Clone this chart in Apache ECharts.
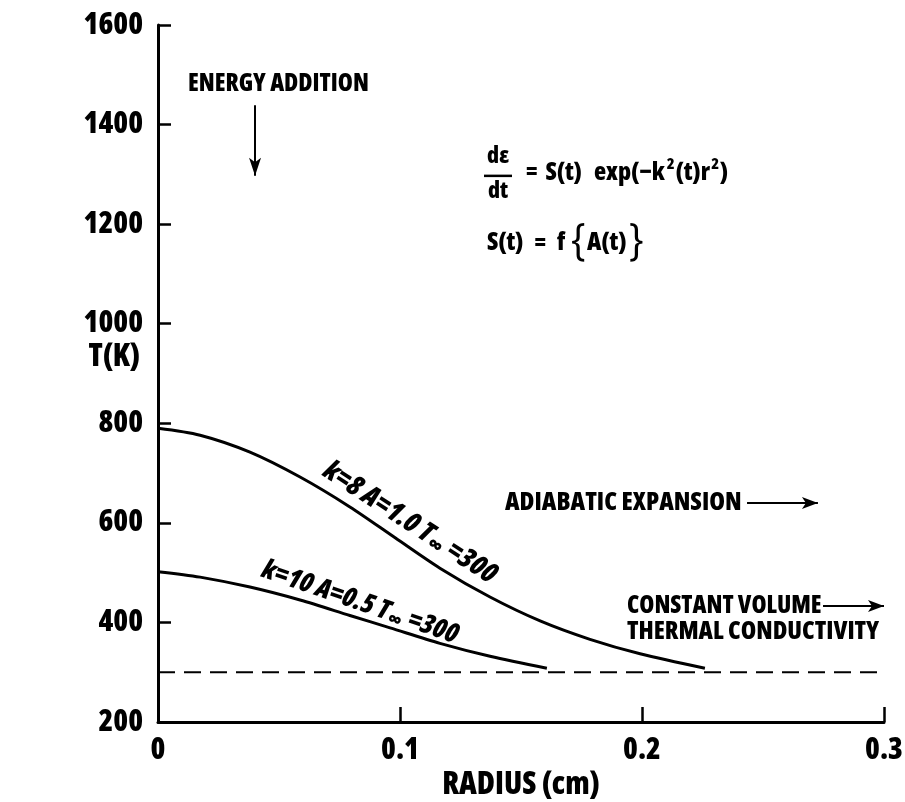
<!DOCTYPE html>
<html>
<head>
<meta charset="utf-8">
<script src="https://cdn.jsdelivr.net/npm/echarts@6/dist/echarts.min.js"></script>
<style>
  html, body { margin: 0; padding: 0; background: #fff; }
  #chart { width: 905px; height: 802px; }
</style>
</head>
<body>
<div id="chart"></div>
<script>
// Radial temperature profiles T(r) for two energy-addition cases
const radiusK8 = [0, 0.0174, 0.038, 0.0587, 0.0793, 0.098, 0.1165, 0.1372, 0.1579, 0.1785, 0.1992, 0.226];
const tempK8   = [790, 776, 742, 692, 632, 570, 509, 451, 403, 366, 337, 308];

const radiusK10 = [0, 0.0174, 0.038, 0.0587, 0.0793, 0.0959, 0.1165, 0.1372, 0.1607];
const tempK10   = [502, 491, 471, 445, 414, 389, 358, 332, 308];

const ambientTemp = 300;
const xTicks = [0, 0.1, 0.2, 0.3];
const yTicks = [200, 400, 600, 800, 1000, 1200, 1400, 1600];

const FAMILY = "'Open Sans', 'DejaVu Sans', sans-serif";
const WEIGHT = '800 condensed';

const pairs = (xs, ys) => xs.map((x, i) => [x, ys[i]]);

const chart = echarts.init(document.getElementById('chart'), null, { renderer: 'canvas' });

const axisLine = { show: true, lineStyle: { color: '#000', width: 3 } };
const labelFont = { fontFamily: FAMILY, fontWeight: WEIGHT, fontSize: 30, color: '#000' };

chart.setOption({
  animation: false,
  backgroundColor: '#fff',
  grid: { left: 158, right: 21, top: 25, bottom: 80, containLabel: false, outerBoundsMode: 'none' },
  xAxis: {
    type: 'value',
    min: xTicks[0], max: xTicks[xTicks.length - 1], interval: 0.1,
    name: 'RADIUS (cm)', nameLocation: 'middle', nameGap: 47,
    nameTextStyle: Object.assign({}, labelFont, { fontSize: 31 }),
    axisLine,
    axisTick: { show: true, inside: true, length: 15, lineStyle: { color: '#000', width: 2.5 } },
    axisLabel: Object.assign({}, labelFont, {
      margin: 13,
      formatter: v => (v === 0 ? '0' : v.toFixed(1))
    }),
    splitLine: { show: false }
  },
  yAxis: {
    type: 'value',
    min: yTicks[0], max: yTicks[yTicks.length - 1], interval: 200,
    axisLine,
    axisTick: { show: true, inside: true, length: 13, lineStyle: { color: '#000', width: 2.5 } },
    axisLabel: Object.assign({}, labelFont, { margin: 15, formatter: v => String(v) }),
    splitLine: { show: false }
  },
  series: [
    {
      type: 'line', data: pairs(radiusK8, tempK8), smooth: 0.3, showSymbol: false,
      lineStyle: { color: '#000', width: 3 }
    },
    {
      type: 'line', data: pairs(radiusK10, tempK10), smooth: 0.3, showSymbol: false,
      lineStyle: { color: '#000', width: 3 }
    },
    {
      type: 'line', data: [[0, ambientTemp], [0.3, ambientTemp]], showSymbol: false, clip: false,
      lineStyle: { color: '#000', width: 2, type: [17, 9] },
      markLine: {
        silent: true, symbol: ['none', 'arrow'],
        label: { show: false },
        lineStyle: { color: '#000', width: 2, type: 'solid' },
        data: [
          [{ coord: [0.0401, 1439] }, { coord: [0.0401, 1297], symbolSize: [9, 18] }],
          [{ coord: [0.2434, 640] }, { coord: [0.2727, 640], symbolSize: [9, 16] }],
          [{ coord: [0.2748, 433] }, { coord: [0.3, 433], symbolSize: [9, 16] }]
        ]
      }
    }
  ]
});

// ---- annotations ----
const measure = document.createElement('canvas').getContext('2d');
function textWidth(t, size, weight) {
  measure.font = `${weight || WEIGHT} ${size}px ${FAMILY}`;
  return measure.measureText(t).width;
}
function px(r, t) { return chart.convertToPixel({ gridIndex: 0 }, [r, t]); }

function label(x, y, text, size, opts) {
  opts = opts || {};
  return {
    type: 'text', x, y, z: 10, rotation: opts.rotation || 0,
    style: Object.assign({
      text, fontFamily: FAMILY, fontWeight: opts.weight || WEIGHT, fontSize: size, fill: '#000',
      align: opts.align || 'left', verticalAlign: 'middle'
    }, opts.style || {})
  };
}

// lay out a row of text runs left to right, each with its own size and baseline shift
function run(x, y, pieces) {
  const out = [];
  pieces.forEach(p => {
    x += p.gap || 0;
    out.push(label(x, y + (p.dy || 0), p.t, p.size, { weight: p.weight }));
    x += textWidth(p.t, p.size, p.weight);
  });
  return out;
}

const g = [];
const ea = px(0.0124, 1481);
g.push(label(ea[0], ea[1], 'ENERGY ADDITION', 24.3));

const ad = px(0.1434, 640);
g.push(label(ad[0], ad[1], 'ADIABATIC EXPANSION', 25.4));
const cv = px(0.1938, 433);
g.push(label(cv[0], cv[1], 'CONSTANT VOLUME', 24.3));
const tc = px(0.1938, 381);
g.push(label(tc[0], tc[1], 'THERMAL CONDUCTIVITY', 25));

// y-axis title
const yt = px(0, 933);
g.push(label(yt[0] - 18, yt[1], 'T(K)', 31, { align: 'right' }));

// rate equation block
const f0 = px(0.1347, 1303);
g.push(label(f0[0] + 14, f0[1] - 16, 'dε', 23, { align: 'center' }));
g.push({ type: 'line', z: 10, shape: { x1: f0[0], y1: f0[1] + 3, x2: f0[0] + 28, y2: f0[1] + 3 },
  style: { stroke: '#000', lineWidth: 2.5 } });
g.push(label(f0[0] + 14, f0[1] + 19, 'dt', 23, { align: 'center' }));
g.push(...run(f0[0] + 42, f0[1], [
  { t: '=', size: 23 },
  { t: 'S(t)', size: 25, gap: 8 },
  { t: 'exp(−k', size: 25, gap: 12 },
  { t: '2', size: 16, dy: -8, gap: 2 },
  { t: '(t)r', size: 25, gap: 1 },
  { t: '2', size: 16, dy: -8, gap: 1 },
  { t: ')', size: 25, gap: 1 }
]));
const s0 = px(0.1347, 1162);
g.push(...run(s0[0] + 3, s0[1], [
  { t: 'S(t)', size: 25 },
  { t: '=', size: 23, gap: 11 },
  { t: 'f', size: 25, gap: 11 },
  { t: '{', size: 44, gap: 5, weight: 'condensed', dy: -2 },
  { t: 'A(t)', size: 25, gap: 1 },
  { t: '}', size: 44, gap: 2, weight: 'condensed', dy: -2 }
]));

// curve labels, set along each profile
const rich = size => ({
  a: { fontFamily: FAMILY, fontWeight: WEIGHT, fontStyle: 'italic', fontSize: size, fill: '#000' },
  s: { fontFamily: FAMILY, fontWeight: WEIGHT, fontSize: size - 7, fill: '#000', padding: [12, 1, 0, 1] }
});
const deg = Math.PI / 180;
const l1 = px(0.1041, 600);
g.push({
  type: 'text', x: l1[0], y: l1[1], rotation: -33 * deg, z: 10,
  style: { text: '{a|k=8 A=1.0 T}{s|∞}{a| =300}', align: 'center', verticalAlign: 'middle', rich: rich(28) }
});
const l2 = px(0.0835, 440);
g.push({
  type: 'text', x: l2[0], y: l2[1], rotation: -19 * deg, z: 10,
  style: { text: '{a|k=10 A=0.5 T}{s|∞}{a| =300}', align: 'center', verticalAlign: 'middle', rich: rich(27) }
});

chart.setOption({ graphic: g });
</script>
</body>
</html>
